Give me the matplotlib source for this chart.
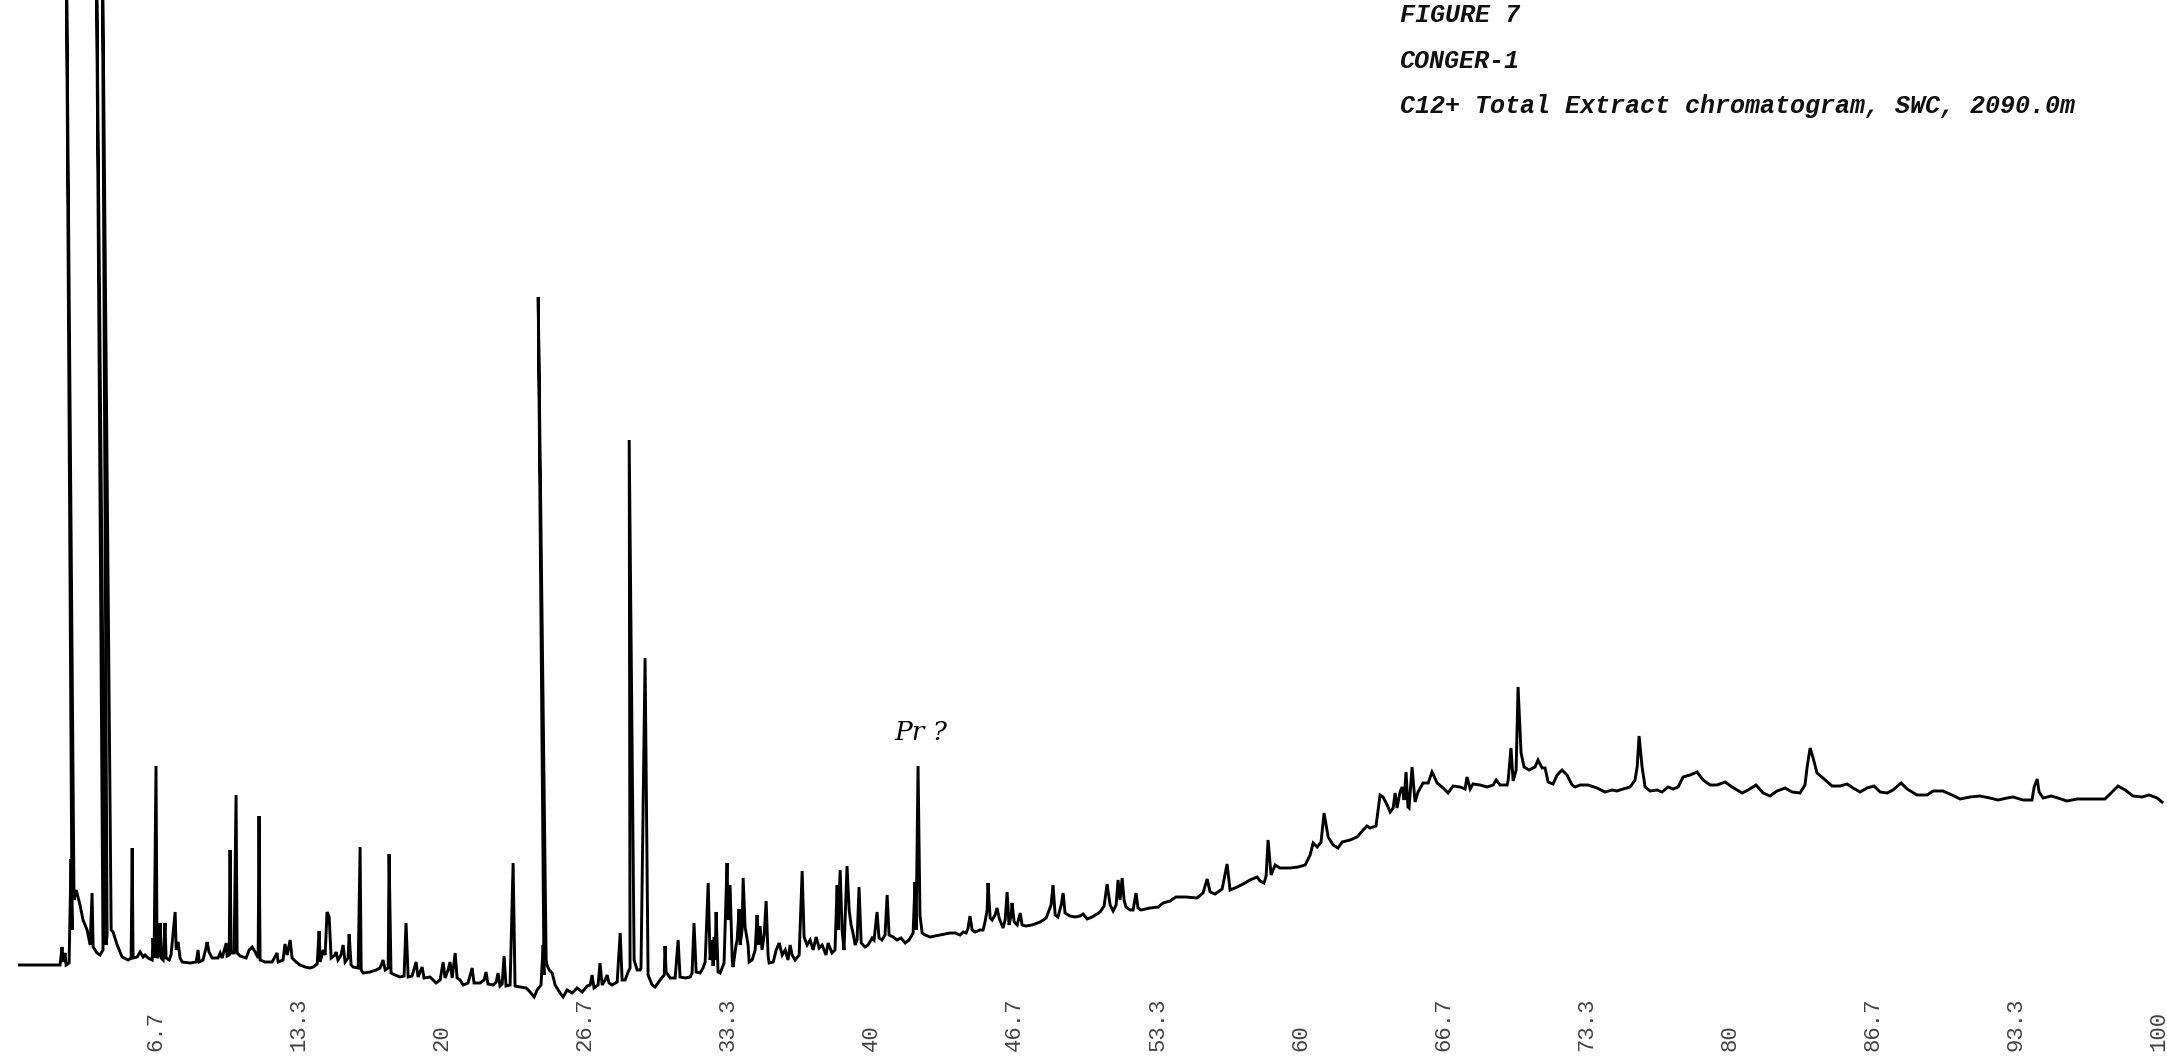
import matplotlib
matplotlib.use("Agg")
import matplotlib.pyplot as plt

# ---------------- data ----------------
title_lines = ["FIGURE 7", "CONGER-1", "C12+ Total Extract chromatogram, SWC, 2090.0m"]
annotation_text = "Pr ?"
annotation_rt = 42.3

tick_positions = [6.667, 13.333, 20.0, 26.667, 33.333, 40.0, 46.667, 53.333,
                  60.0, 66.667, 73.333, 80.0, 86.667, 93.333, 100.0]
tick_labels = ["6.7", "13.3", "20", "26.7", "33.3", "40", "46.7", "53.3",
               "60", "66.7", "73.3", "80", "86.7", "93.3", "100"]

# recorder pen trace (retention, response); clipped apexes are set just above full scale
trace_rt = [
    0.23, 2.10, 2.19, 2.28, 2.33, 2.42, 2.47, 2.61, 2.70, 2.75, 2.47, 2.84, 2.94, 3.12, 3.26,
    3.45, 3.59, 3.68, 3.73, 3.91, 4.05, 4.19, 3.87, 4.29, 4.33, 4.38, 4.15, 4.57, 4.66, 4.85,
    5.08, 5.36, 5.50, 5.55, 5.59, 5.78, 5.92, 6.06, 6.15, 6.29, 6.48, 6.52, 6.57, 6.66, 6.71,
    6.80, 6.85, 6.90, 6.99, 7.08, 7.13, 7.27, 7.36, 7.55, 7.60, 7.69, 7.78, 7.88, 8.25, 8.53,
    8.62, 8.67, 8.85, 8.99, 9.04, 9.13, 9.27, 9.55, 9.65, 9.74, 9.93, 9.97, 10.07, 10.11, 10.16,
    10.30, 10.39, 10.44, 10.58, 10.86, 11.00, 11.14, 11.28, 11.42, 11.46, 11.51, 11.74, 12.07,
    12.30, 12.35, 12.58, 12.67, 12.77, 12.91, 13.00, 13.19, 13.37, 13.61, 13.84, 13.98, 14.17,
    14.26, 14.31, 14.45, 14.54, 14.63, 14.73, 14.82, 15.00, 15.05, 15.14, 15.28, 15.38, 15.47,
    15.61, 15.66, 15.75, 15.84, 16.08, 16.17, 16.22, 16.31, 16.64, 16.92, 17.10, 17.24, 17.34,
    17.48, 17.52, 17.61, 17.80, 18.03, 18.22, 18.31, 18.41, 18.59, 18.78, 18.87, 19.06, 19.15,
    19.43, 19.71, 19.90, 20.04, 20.13, 20.27, 20.36, 20.46, 20.60, 20.69, 20.83, 20.97, 21.20,
    21.39, 21.48, 21.76, 21.95, 22.04, 22.13, 22.37, 22.51, 22.60, 22.69, 22.79, 22.88, 22.97,
    23.16, 23.30, 23.39, 23.63, 23.91, 24.09, 24.28, 24.42, 24.60, 24.70, 24.74, 24.47, 24.84,
    24.88, 24.98, 25.12, 25.26, 25.49, 25.63, 25.82, 26.05, 26.28, 26.52, 26.75, 26.89, 26.98,
    27.07, 27.26, 27.35, 27.45, 27.59, 27.68, 27.77, 27.91, 28.15, 28.29, 28.38, 28.52, 28.66,
    28.75, 28.71, 28.94, 29.08, 29.22, 29.26, 29.45, 29.59, 29.78, 29.92, 30.15, 30.34, 30.38,
    30.43, 30.62, 30.85, 30.99, 31.08, 31.32, 31.55, 31.64, 31.73, 31.83, 32.01, 32.15, 32.25,
    32.39, 32.48, 32.57, 32.62, 32.67, 32.71, 32.76, 32.85, 32.95, 33.04, 33.13, 33.27, 33.32,
    33.41, 33.51, 33.55, 33.69, 33.74, 33.83, 33.88, 33.97, 34.02, 34.11, 34.25, 34.30, 34.44,
    34.58, 34.67, 34.72, 34.81, 34.90, 35.00, 35.09, 35.18, 35.23, 35.42, 35.56, 35.70, 35.84,
    35.98, 36.11, 36.21, 36.30, 36.44, 36.63, 36.77, 36.86, 37.00, 37.14, 37.28, 37.42, 37.56,
    37.70, 37.88, 37.98, 38.16, 38.30, 38.40, 38.44, 38.54, 38.63, 38.72, 38.86, 38.96, 39.05,
    39.14, 39.24, 39.33, 39.42, 39.52, 39.70, 39.84, 40.03, 40.12, 40.26, 40.35, 40.49, 40.63,
    40.73, 40.82, 41.01, 41.19, 41.38, 41.57, 41.75, 41.94, 42.03, 42.08, 42.17, 42.26, 42.36,
    42.50, 42.73, 42.96, 43.20, 43.43, 43.66, 43.90, 44.13, 44.27, 44.41, 44.50, 44.59, 44.69,
    44.83, 45.06, 45.20, 45.29, 45.39, 45.43, 45.53, 45.62, 45.76, 45.85, 45.95, 46.13, 46.23,
    46.32, 46.41, 46.51, 46.55, 46.65, 46.79, 46.93, 47.02, 47.20, 47.48, 47.86, 48.14, 48.37,
    48.46, 48.56, 48.69, 48.84, 48.93, 49.02, 49.25, 49.49, 49.72, 49.86, 50.05, 50.28, 50.51,
    50.65, 50.84, 50.98, 51.12, 51.26, 51.40, 51.49, 51.58, 51.68, 51.77, 51.86, 52.05, 52.19,
    52.33, 52.42, 52.56, 52.98, 53.36, 53.59, 53.91, 54.19, 54.66, 55.17, 55.45, 55.64, 55.78,
    56.01, 56.34, 56.57, 56.71, 57.04, 57.32, 57.64, 57.97, 58.11, 58.29, 58.39, 58.48, 58.62,
    58.81, 59.04, 59.51, 59.88, 60.21, 60.44, 60.58, 60.77, 60.95, 61.09, 61.28, 61.51, 61.74,
    61.93, 62.30, 62.63, 62.91, 63.09, 63.23, 63.51, 63.61, 63.70, 63.84, 64.03, 64.17, 64.31,
    64.40, 64.49, 64.63, 64.73, 64.82, 64.91, 65.00, 65.05, 65.19, 65.33, 65.47, 65.70, 65.94,
    66.12, 66.36, 66.64, 66.87, 67.10, 67.43, 67.66, 67.75, 67.90, 68.03, 68.36, 68.69, 68.97,
    69.11, 69.29, 69.62, 69.67, 69.80, 69.90, 70.04, 70.13, 70.27, 70.41, 70.64, 70.92, 71.06,
    71.25, 71.39, 71.53, 71.76, 71.95, 72.18, 72.41, 72.65, 72.79, 73.02, 73.39, 73.81, 74.18,
    74.51, 74.74, 75.02, 75.35, 75.58, 75.68, 75.77, 75.91, 76.05, 76.28, 76.61, 76.84, 77.12,
    77.35, 77.59, 77.82, 78.15, 78.47, 78.75, 79.08, 79.40, 79.78, 80.10, 80.57, 80.85, 81.22,
    81.55, 81.87, 82.20, 82.57, 82.90, 83.27, 83.50, 83.60, 83.74, 83.88, 84.06, 84.34, 84.76,
    85.14, 85.46, 85.74, 86.07, 86.39, 86.72, 87.00, 87.33, 87.60, 87.98, 88.26, 88.72, 89.19,
    89.47, 89.93, 90.35, 90.73, 91.19, 91.66, 92.12, 92.50, 92.92, 93.20, 93.66, 94.08, 94.18,
    94.32, 94.41, 94.60, 94.97, 95.29, 95.71, 96.18, 96.79, 97.48, 97.81, 98.09, 98.42, 98.79,
    99.21, 99.53, 99.91, 100.19,
]
trace_resp = [
    -0.2, -0.2, -0.2, 1.6, 0.1, 1.0, -0.2, 0.0, 10.4, 3.3, 105.0, 6.3, 7.3, 5.8, 4.3,
    3.3, 1.8, 7.0, 1.6, 1.0, 0.8, 1.3, 105.0, 3.3, 1.8, 2.8, 105.0, 3.3, 3.1, 1.8,
    0.6, 0.3, 0.5, 11.5, 0.5, 0.6, 1.1, 0.6, 0.8, 0.5, 0.3, 2.5, 0.5, 19.7, 0.5,
    0.8, 4.0, 0.5, 0.3, 4.0, 0.5, 0.3, 0.8, 5.1, 1.3, 2.1, 0.5, 0.1, 0.0, 0.1,
    1.3, 0.1, 0.3, 1.5, 2.1, 1.1, 0.5, 0.5, 1.0, 0.5, 2.0, 0.7, 0.8, 11.3, 1.0,
    1.0, 16.8, 1.0, 0.7, 0.5, 1.3, 1.6, 1.1, 0.5, 14.7, 0.3, 0.1, 0.1,
    1.0, 0.1, 0.3, 1.9, 0.8, 2.3, 0.5, 0.1, -0.2, -0.4, -0.5, -0.4, -0.1,
    3.2, 0.1, 1.3, 0.8, 5.1, 4.6, 0.5, 0.8, 1.1, 0.3, 0.8, 1.8, 0.1,
    0.5, 2.9, -0.2, -0.4, -0.5, 11.6, -0.7, -1.0, -0.9, -0.7, -0.5, 0.3, -0.7,
    -0.5, 10.9, -1.0, -1.2, -1.4, -1.3, 4.0, -1.4, -1.3, 0.1, -1.4, -0.4, -1.5,
    -1.4, -2.0, -1.7, 0.1, -1.5, -0.7, 0.1, -1.5, 1.0, -1.5, -1.7, -2.2, -2.0,
    -0.5, -2.0, -2.0, -1.7, -0.9, -2.1, -2.2, -1.9, -1.0, -2.3, -2.1, 0.7, -2.3,
    -2.2, 10.0, -2.3, -2.4, -2.5, -2.9, -3.4, -2.7, -2.2, 1.8, -1.2, 66.6, 0.3,
    -0.2, -0.7, -1.0, -2.2, -3.0, -3.4, -2.7, -3.0, -2.5, -2.9, -2.3, -2.2, -1.2,
    -2.5, -2.2, 0.0, -2.2, -1.7, -1.2, -2.0, -2.2, -1.9, 3.0, -1.7, -1.7, -0.9,
    -0.5, 52.3, 0.3, -0.7, -0.7, -0.5, 30.5, -1.2, -2.2, -2.4, -1.7, -1.2, 1.7,
    -0.9, -1.5, -1.5, 2.3, -1.4, -1.5, -1.4, -1.0, 4.0, -0.9, -1.0, -0.5, 0.1,
    8.0, 0.3, 2.3, -0.3, 2.6, 0.3, 5.1, -0.9, -1.0, -0.5, 0.0, 10.0, 4.3,
    7.8, 0.3, -0.4, 1.8, 2.3, 5.4, 1.8, 3.3, 8.5, 3.6, 1.8, 0.1, 0.3,
    1.3, 4.8, 1.8, 3.7, 1.3, 2.8, 6.2, 0.8, 0.0, 0.1, 1.3, 2.0, 0.8,
    1.3, 0.3, 1.8, 0.8, 0.3, 0.8, 9.2, 2.6, 1.8, 2.3, 1.3, 2.6, 1.5,
    1.8, 0.8, 2.0, 1.0, 1.3, 7.8, 3.3, 9.3, 3.3, 1.3, 9.7, 5.3, 3.8,
    3.0, 1.8, 2.3, 7.6, 2.0, 1.6, 1.8, 2.5, 2.3, 5.1, 2.5, 2.3, 2.8,
    6.8, 2.8, 2.6, 2.3, 2.5, 2.0, 2.3, 3.0, 8.1, 3.3, 19.7, 4.8, 3.0,
    2.8, 2.6, 2.7, 2.8, 2.9, 3.0, 3.0, 2.8, 3.1, 3.0, 3.5, 4.7, 3.3,
    3.1, 3.3, 3.3, 4.1, 5.3, 8.0, 4.5, 4.3, 4.8, 5.5, 4.5, 3.5, 4.3,
    7.1, 3.8, 4.8, 6.0, 4.1, 3.8, 5.0, 3.8, 3.7, 3.8, 4.1, 4.5, 5.8,
    7.8, 4.8, 4.6, 5.8, 7.0, 5.0, 4.7, 4.6, 4.7, 4.9, 4.4, 4.6, 4.9,
    5.1, 5.7, 7.9, 5.8, 5.2, 5.8, 8.3, 6.3, 8.5, 6.3, 5.6, 5.3, 5.3,
    7.0, 5.5, 5.3, 5.5, 5.6, 6.0, 6.2, 6.6, 6.6, 6.5, 7.0, 8.4, 7.1,
    6.9, 7.4, 9.9, 7.3, 7.6, 7.9, 8.3, 8.6, 8.2, 8.0, 8.7, 12.3, 8.8,
    9.8, 9.5, 9.5, 9.6, 9.8, 10.8, 12.0, 11.6, 12.1, 15.0, 12.6, 11.8, 11.5,
    12.1, 12.3, 12.6, 13.3, 13.7, 13.5, 13.7, 15.3, 16.8, 16.6, 15.8, 15.1, 15.5,
    17.0, 15.5, 17.1, 17.6, 16.3, 19.1, 15.6, 15.5, 19.6, 16.1, 17.1, 18.0, 18.0,
    19.1, 18.0, 17.5, 17.0, 17.7, 17.6, 17.4, 18.6, 17.4, 17.9, 17.8, 17.6, 17.8,
    18.3, 17.8, 17.8, 18.3, 21.5, 18.2, 19.3, 27.6, 21.0, 19.6, 19.3, 19.6, 20.3,
    19.5, 19.5, 18.1, 17.9, 18.8, 19.3, 18.8, 17.8, 17.6, 17.8, 17.8, 17.5, 17.1,
    17.3, 17.2, 17.4, 17.6, 18.3, 19.6, 22.7, 19.6, 17.6, 17.2, 17.3, 17.1, 17.6,
    17.4, 17.6, 18.6, 18.8, 19.1, 18.3, 17.8, 17.8, 18.1, 17.6, 17.0, 17.3, 17.8,
    17.0, 16.7, 17.2, 17.5, 17.1, 17.0, 17.8, 19.6, 21.5, 20.5, 19.0, 18.5, 17.7,
    17.7, 17.9, 17.5, 17.1, 17.5, 17.7, 17.1, 17.0, 17.3, 18.0, 17.4, 16.8, 16.8,
    17.2, 17.2, 16.8, 16.4, 16.6, 16.7, 16.5, 16.3, 16.5, 16.6, 16.3, 16.3, 17.6,
    18.4, 17.1, 16.5, 16.7, 16.5, 16.2, 16.4, 16.4, 16.4, 17.1, 17.7, 17.3, 16.7,
    16.6, 16.8, 16.5, 16.0,
]

# ---------------- figure ----------------
W, H, DPI = 2167, 1063, 100
fig = plt.figure(figsize=(W / DPI, H / DPI), dpi=DPI, facecolor="white")
ax = fig.add_axes([0.0, 63 / H, 1.0, 1000 / H])
ax.set_facecolor("white")

ax.plot(trace_rt, trace_resp, color="black", linewidth=2.1,
        solid_joinstyle="miter", solid_capstyle="butt")

ax.set_xlim(-0.61, 100.37)
ax.set_ylim(-3.7, 96.3)
for s in ax.spines.values():
    s.set_visible(False)
ax.set_yticks([])
ax.set_xticks(tick_positions, tick_labels)
ax.tick_params(axis="x", length=0, pad=37, labelrotation=90, labelsize=16,
               labelcolor="#444444")
for lbl in ax.get_xticklabels():
    lbl.set_fontfamily("Liberation Mono")
    lbl.set_verticalalignment("bottom")

# handwritten annotation above the pristane peak
ax.text(annotation_rt, 23.0, annotation_text, fontsize=19, style="italic",
        family="DejaVu Serif", ha="center", va="center", color="black")

# title block (typewriter)
ys = [15, 61, 106]
for line, y in zip(title_lines, ys):
    fig.text(1400 / W, 1 - y / H, line, fontsize=18, family="Liberation Mono",
             style="italic", fontweight="bold", ha="left", va="center", color="#111111")

fig.savefig("out.png", dpi=DPI, facecolor="white")
